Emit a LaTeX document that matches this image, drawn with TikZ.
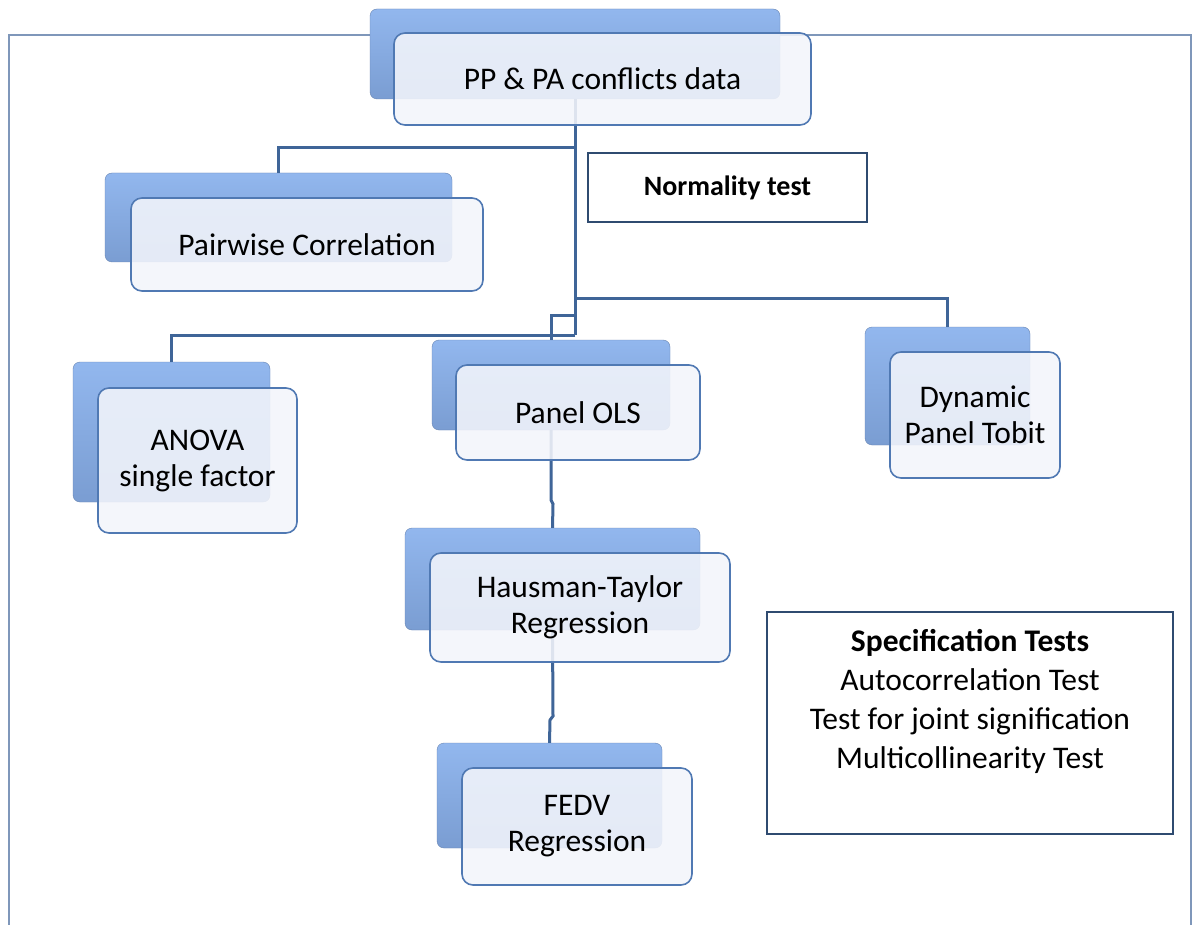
\documentclass[tikz,border=0pt]{standalone}
\usepackage{fontspec}
\setmainfont{Carlito}
\usetikzlibrary{calc}
\definecolor{conncol}{HTML}{3F6598}
\definecolor{framecol}{HTML}{7F97BA}
\definecolor{frontline}{HTML}{5079B3}
\definecolor{frontfill}{HTML}{F3F5FB}
\definecolor{backtop}{HTML}{92B7EE}
\definecolor{backbot}{HTML}{7A9DD2}
\definecolor{plainline}{HTML}{2F4B70}
\tikzset{
  backbox/.style={rectangle, rounded corners=7pt, top color=backtop, bottom color=backbot, draw=backbot!85!black, line width=0.4pt, inner sep=0pt},
  frontbox/.style={rectangle, rounded corners=11pt, draw=frontline, line width=1.6pt, fill=frontfill, fill opacity=0.88, text opacity=1, inner sep=0pt, align=center, font=\fontsize{31.5}{36}\selectfont},
  plainbox/.style={rectangle, draw=plainline, line width=1.8pt, fill=white, inner sep=0pt, align=center},
  conn/.style={draw=conncol, line width=3pt},
  frameline/.style={draw=framecol, line width=2.5pt}
}
\begin{document}
\begin{tikzpicture}[x=1pt,y=-1pt]
\useasboundingbox (0,0) rectangle (1196,925);
\fill[white] (0,0) rectangle (1196,925);
% outer frame
\coordinate (fa) at (9,925);
\coordinate (fb) at (9,35);
\coordinate (fc) at (1191,35);
\coordinate (fd) at (1191,925);
\draw[frameline] (fa) -- (fb) -- (fc) -- (fd);

% back boxes
\node[backbox, minimum width=410pt, minimum height=90pt] (topB) at (575,54) {};
\node[backbox, minimum width=347pt, minimum height=89pt] (pairB) at (278.5,217.5) {};
\node[backbox, minimum width=197pt, minimum height=140pt] (anovaB) at (171.5,432) {};
\node[backbox, minimum width=238pt, minimum height=90pt] (olsB) at (551,385) {};
\node[backbox, minimum width=165pt, minimum height=118pt] (tobitB) at (947.5,386) {};
\node[backbox, minimum width=295pt, minimum height=102pt] (hausB) at (552.5,579) {};
\node[backbox, minimum width=225pt, minimum height=105pt] (fedvB) at (549.5,795.5) {};

% junctions on the main trunk
\coordinate (m1) at (575,148);
\coordinate (m2) at (575,298);
\coordinate (m3) at (575,315);
\coordinate (m4) at (575,335);
\coordinate (k1) at (551,500);
\coordinate (k2) at (553,504);
\coordinate (k3) at (553,716);
\coordinate (k4) at (550,720);

% connectors
\draw[conn] (topB.south) -- (m4);
\draw[conn] (m1) -| (pairB.north);
\draw[conn] (m2) -| (tobitB.north);
\draw[conn] (m3) -| (olsB.north);
\draw[conn] (m4) -| (anovaB.north);
\draw[conn] (olsB.south) -- (k1) -- (k2) -- (hausB.north);
\draw[conn] (hausB.south) -- (k3) -- (k4) -- (fedvB.north);

% front boxes
\node[frontbox, minimum width=417pt, minimum height=92pt] (top) at (602.5,79) {PP \& PA conflicts data};
\node[frontbox, minimum width=352pt, minimum height=93pt] (pair) at (307,244.5) {Pairwise Correlation};
\node[frontbox, minimum width=199pt, minimum height=145pt] (anova) at (197.5,460.5) {ANOVA\\single factor};
\node[frontbox, minimum width=244pt, minimum height=95pt] (ols) at (578,412.5) {Panel OLS};
\node[frontbox, minimum width=170pt, minimum height=126pt] (tobit) at (975,415) {Dynamic\\Panel Tobit};
\node[frontbox, minimum width=300pt, minimum height=109pt] (haus) at (580,607.5) {Hausman-Taylor\\Regression};
\node[frontbox, minimum width=230pt, minimum height=117pt] (fedv) at (577,826.5) {FEDV\\Regression};

% plain boxes
\node[plainbox, minimum width=279pt, minimum height=69pt, font=\bfseries\fontsize{28}{32}\selectfont] (norm) at (727.5,187.5) {Normality test};
\node[plainbox, minimum width=406pt, minimum height=222pt] (spec) at (970,723) {};
\node[align=center, font=\fontsize{31.5}{39}\selectfont, anchor=north] (spectxt) at ($(spec.north)+(0,15)$) {\textbf{Specification Tests}\\Autocorrelation Test\\Test for joint signification\\Multicollinearity Test};
\end{tikzpicture}
\end{document}
